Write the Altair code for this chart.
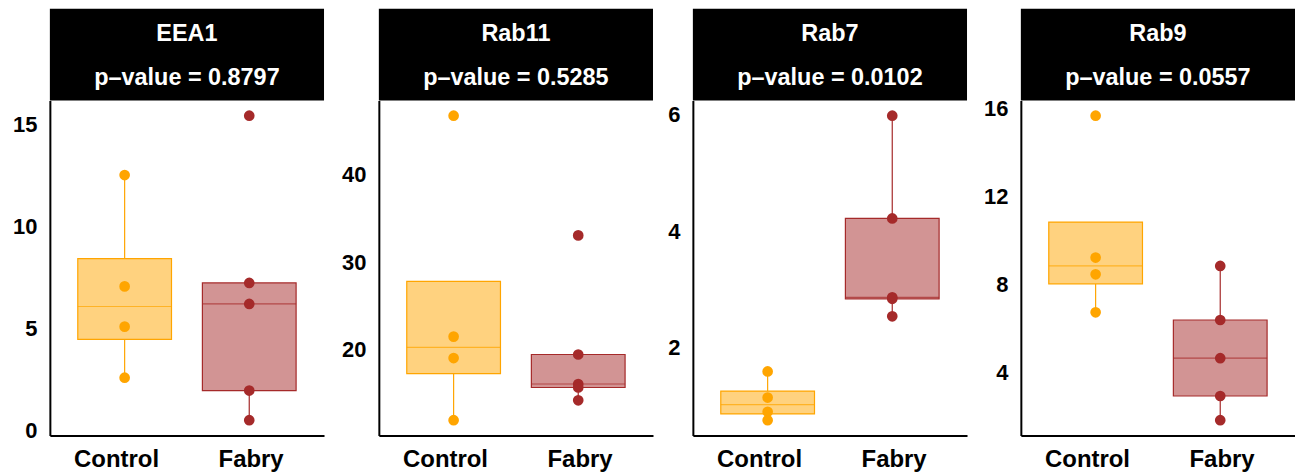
import altair as alt
import numpy as np
import pandas as pd

genes = ["EEA1", "Rab11", "Rab7", "Rab9"]
p_values = ["0.8797", "0.5285", "0.0102", "0.0557"]
groups = ["Control", "Fabry"]

eea1_control = [12.50, 7.05, 5.08, 2.58]
eea1_fabry = [15.41, 7.22, 6.19, 1.95, 0.50]
rab11_control = [46.74, 21.51, 19.06, 11.97]
rab11_fabry = [33.07, 19.47, 16.10, 15.70, 14.24]
rab7_control = [1.596, 1.148, 0.904, 0.761]
rab7_fabry = [5.977, 4.216, 2.865, 2.84, 2.54]
rab9_control = [15.67, 9.21, 8.45, 6.72]
rab9_fabry = [8.83, 6.37, 4.63, 2.91, 1.81]

eea1_ticks = [0, 5, 10, 15]
rab11_ticks = [20, 30, 40]
rab7_ticks = [2, 4, 6]
rab9_ticks = [4, 8, 12, 16]

group_stroke = ["#FFA500", "#A52A2A"]
group_fill = ["#FFD27F", "#D29494"]

FONT = "Liberation Sans"
W, H, HEAD = 275, 336, 92


def box_stats(vals):
    v = np.array(vals, dtype=float)
    q1, med, q3 = np.percentile(v, [25, 50, 75])
    iqr = q3 - q1
    inside = v[(v >= q1 - 1.5 * iqr) & (v <= q3 + 1.5 * iqr)]
    lo = min(q1, inside.min())
    hi = max(q3, inside.max())
    return dict(q1=q1, median=med, q3=q3, lo=lo, hi=hi)


def panel(gene, p, ctrl, fab, ticks, extent):
    pts = pd.DataFrame({
        "group": ["Control"] * len(ctrl) + ["Fabry"] * len(fab),
        "value": list(ctrl) + list(fab),
    })
    stats = pd.DataFrame([dict(group=g, **box_stats(v)) for g, v in zip(groups, [ctrl, fab])])
    allv = list(ctrl) + list(fab)
    lo, hi = min(allv), max(allv)
    r = hi - lo
    dom = [lo - 0.05 * r, hi + 0.05 * r]

    x = alt.X("group:N", scale=alt.Scale(type="point", domain=groups, padding=0.6),
              axis=alt.Axis(labelAngle=0, labelAlign="right", labelOffset=34,
                            labelBaseline="alphabetic", labelPadding=31,
                            labelFontSize=24, labelFontWeight="bold", labelColor="black",
                            labelFont=FONT, ticks=False, tickSize=0, domainColor="black",
                            domainWidth=2, title=None, grid=False))
    yscale = alt.Scale(domain=dom, nice=False, zero=False)
    yaxis = alt.Axis(values=ticks, labelFontSize=22, labelFontWeight="bold", labelColor="black",
                     labelFont=FONT, labelPadding=13, ticks=False, tickSize=0,
                     domainColor="black", domainWidth=2, title=None, grid=False,
                     minExtent=extent, maxExtent=extent)
    stroke_scale = alt.Scale(domain=groups, range=group_stroke)
    fill_scale = alt.Scale(domain=groups, range=group_fill)

    head_df = pd.DataFrame({"gene": [gene], "p": ["p\u2013value = " + p]})
    header = alt.Chart(head_df).mark_rect(color="black").encode(
        x=alt.value(0), x2=alt.value(W), y=alt.value(-HEAD), y2=alt.value(0))
    t1 = alt.Chart(head_df).mark_text(color="white", font=FONT, fontSize=23.5, fontWeight="bold",
                                      baseline="alphabetic", align="center").encode(
        x=alt.value(W / 2), y=alt.value(-60), text="gene:N")
    t2 = alt.Chart(head_df).mark_text(color="white", font=FONT, fontSize=23.5, fontWeight="bold",
                                      baseline="alphabetic", align="center").encode(
        x=alt.value(W / 2), y=alt.value(-15), text="p:N")

    sb = alt.Chart(stats)
    w_low = sb.mark_rule(strokeWidth=1.2).encode(
        x=x, y=alt.Y("lo:Q", scale=yscale, axis=yaxis), y2="q1:Q",
        color=alt.Color("group:N", scale=stroke_scale, legend=None))
    w_high = sb.mark_rule(strokeWidth=1.2).encode(
        x=x, y=alt.Y("q3:Q", scale=yscale, axis=yaxis), y2="hi:Q",
        color=alt.Color("group:N", scale=stroke_scale, legend=None))
    box = sb.mark_bar(size=94, strokeWidth=1.2).encode(
        x=x, y=alt.Y("q1:Q", scale=yscale, axis=yaxis), y2="q3:Q",
        fill=alt.Fill("group:N", scale=fill_scale, legend=None),
        stroke=alt.Stroke("group:N", scale=stroke_scale, legend=None))
    med = sb.mark_tick(size=94, thickness=1.2).encode(
        x=x, y=alt.Y("median:Q", scale=yscale, axis=yaxis),
        color=alt.Color("group:N", scale=stroke_scale, legend=None))
    points = alt.Chart(pts).mark_circle(size=115, opacity=1).encode(
        x=x, y=alt.Y("value:Q", scale=yscale, axis=yaxis),
        color=alt.Color("group:N", scale=stroke_scale, legend=None))

    return alt.layer(header, t1, t2, w_low, w_high, box, med, points).properties(width=W, height=H)


panels = [
    panel(genes[0], p_values[0], eea1_control, eea1_fabry, eea1_ticks, 42),
    panel(genes[1], p_values[1], rab11_control, rab11_fabry, rab11_ticks, 55),
    panel(genes[2], p_values[2], rab7_control, rab7_fabry, rab7_ticks, 40),
    panel(genes[3], p_values[3], rab9_control, rab9_fabry, rab9_ticks, 54),
]

chart = alt.hconcat(*panels, spacing=0).properties(
    padding={"left": 0, "top": 0, "right": 0, "bottom": 0}, background="white"
).configure_view(stroke=None)

chart.save("out.html", embed_options={"renderer": "svg", "actions": False})
